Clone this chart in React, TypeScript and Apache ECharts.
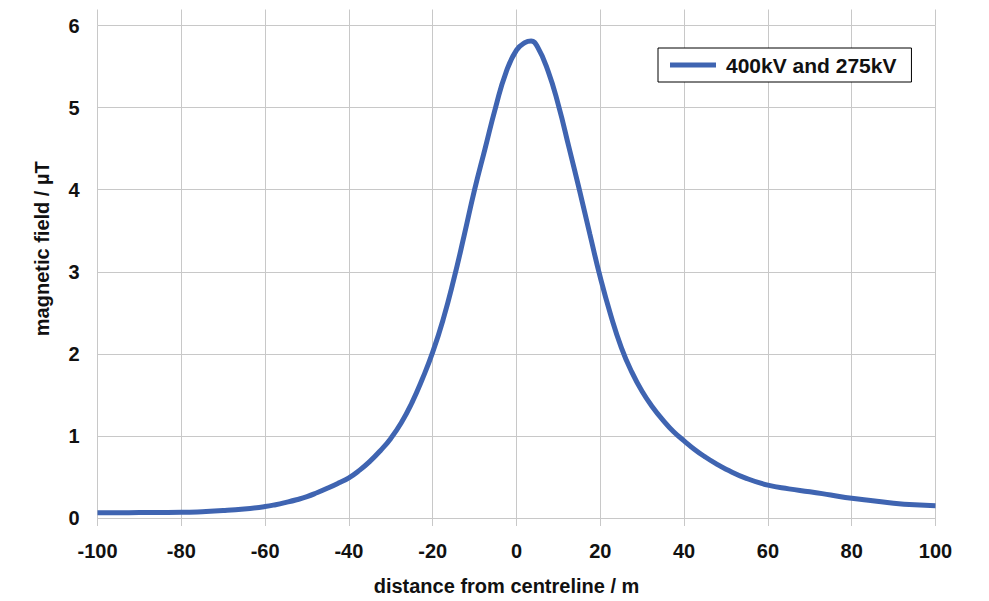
import React, { useEffect, useRef } from "react";
import * as echarts from "echarts";

const seriesName = "400kV and 275kV";
const distances = [-100, -95, -90, -85, -80, -75, -70, -65, -60, -57.5, -55, -52.5, -50, -47.5, -45, -42.5, -40, -37.5, -35, -32.5, -30, -27.5, -25, -22.5, -20, -17.5, -15, -12.5, -10, -7.5, -5, -2.5, 0, 2, 3.5, 5, 7.5, 10, 12.5, 15, 17.5, 20, 22.5, 25, 27.5, 30, 32.5, 35, 37.5, 40, 42.5, 45, 47.5, 50, 55, 60, 65, 70, 75, 80, 85, 90, 95, 100];
const fieldValues = [0.065, 0.065, 0.066, 0.067, 0.069, 0.077, 0.09, 0.11, 0.14, 0.162, 0.19, 0.222, 0.26, 0.31, 0.365, 0.425, 0.49, 0.58, 0.69, 0.82, 0.97, 1.16, 1.4, 1.69, 2.02, 2.42, 2.9, 3.44, 4.0, 4.5, 5.0, 5.43, 5.7, 5.79, 5.81, 5.74, 5.45, 5.03, 4.52, 4.0, 3.46, 2.93, 2.47, 2.08, 1.78, 1.54, 1.35, 1.19, 1.05, 0.94, 0.835, 0.745, 0.665, 0.595, 0.48, 0.4, 0.355, 0.32, 0.28, 0.24, 0.21, 0.18, 0.16, 0.15];
const xTitle = "distance from centreline / m";
const yTitle = "magnetic field / µT";

const FONT = "'Liberation Sans', Arial, Helvetica, sans-serif";
const GRID = "#c8c8c8";
const LINE = "#3f64b1";

export default function App() {
  const ref = useRef<HTMLDivElement>(null);
  useEffect(() => {
    if (!ref.current) return;
    const chart = echarts.init(ref.current, undefined, { renderer: "svg" });
    const data = distances.map((d, i) => [d, fieldValues[i]]);
    chart.setOption({
      animation: false,
      backgroundColor: "#ffffff",
      grid: { left: 97.5, right: 53.5, top: 25.5, bottom: 78.5, containLabel: false },
      legend: {
        data: [seriesName],
        left: 658,
        top: 48,
        orient: "horizontal",
        icon: "rect",
        itemWidth: 46,
        itemHeight: 5,
        borderColor: "#000000",
        borderWidth: 1,
        borderRadius: 0,
        padding: [6, 15, 6, 12],
        backgroundColor: "#ffffff",
        textStyle: {
          fontFamily: FONT,
          fontWeight: "bold",
          fontSize: 21,
          color: "#111111",
          lineHeight: 22,
          padding: [0, 0, 0, 5],
        },
      },
      xAxis: [
        {
          type: "value",
          min: -100,
          max: 100,
          interval: 20,
          position: "bottom",
          name: xTitle,
          nameLocation: "middle",
          nameGap: 58,
          nameTextStyle: {
            fontFamily: FONT,
            fontWeight: "bold",
            fontSize: 20,
            color: "#111111",
            padding: [0, 20, 0, 0],
          },
          axisLine: { show: true, lineStyle: { color: GRID, width: 1 } },
          axisTick: { show: true, length: 8, lineStyle: { color: GRID, width: 1 } },
          axisLabel: {
            fontFamily: FONT,
            fontWeight: "bold",
            fontSize: 20,
            color: "#111111",
            margin: 23,
          },
          splitLine: { show: true, lineStyle: { color: GRID, width: 1 } },
        },
        {
          type: "value",
          min: -100,
          max: 100,
          interval: 20,
          position: "top",
          axisLine: { show: false },
          axisTick: { show: true, length: 16, lineStyle: { color: GRID, width: 1 } },
          axisLabel: { show: false },
          splitLine: { show: false },
        },
      ],
      yAxis: {
        type: "value",
        min: 0,
        max: 6,
        interval: 1,
        name: yTitle,
        nameLocation: "middle",
        nameGap: 46,
        nameTextStyle: {
          fontFamily: FONT,
          fontWeight: "bold",
          fontSize: 20,
          color: "#111111",
          padding: [0, 0, 0, 46],
        },
        axisLine: { show: true, lineStyle: { color: GRID, width: 1 } },
        axisTick: { show: true, length: 10, lineStyle: { color: GRID, width: 1 } },
        axisLabel: {
          fontFamily: FONT,
          fontWeight: "bold",
          fontSize: 20,
          color: "#111111",
          margin: 18,
        },
        splitLine: { show: true, lineStyle: { color: GRID, width: 1 } },
      },
      series: [
        {
          name: seriesName,
          type: "line",
          data,
          smooth: 0.5,
          showSymbol: false,
          symbol: "none",
          lineStyle: { color: LINE, width: 5 },
          itemStyle: { color: LINE },
        },
      ],
    });
    return () => chart.dispose();
  }, []);
  return (
    <div
      ref={ref}
      style={{ position: "fixed", left: 0, top: 0, width: 989, height: 601, background: "#fff" }}
    />
  );
}
